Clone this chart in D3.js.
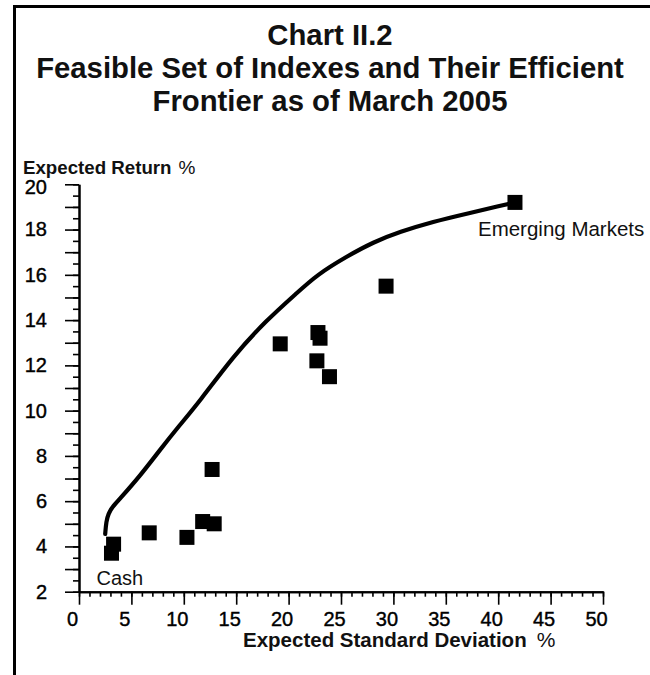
<!DOCTYPE html>
<html>
<head>
<meta charset="utf-8">
<script src="https://cdn.jsdelivr.net/npm/d3@7"></script>
<style>
  html, body { margin: 0; padding: 0; background: #fff; }
  svg { display: block; font-family: "Liberation Sans", Arial, Helvetica, sans-serif; }
</style>
</head>
<body>
<svg id="chart" width="650" height="675"></svg>
<script>
// ---- data ----
const titleLines = ["Chart II.2", "Feasible Set of Indexes and Their Efficient", "Frontier as of March 2005"];
const xTicks = [0, 5, 10, 15, 20, 25, 30, 35, 40, 45, 50];
const yTicks = [2, 4, 6, 8, 10, 12, 14, 16, 18, 20];
// feasible set of indexes (expected std dev %, expected return %)
const indexSD     = [3.3, 3.1, 6.7, 10.3, 11.8, 12.9, 12.7, 19.2, 22.8, 23.0, 22.7, 23.9, 29.3, 41.6];
const indexReturn = [4.1, 3.7, 4.6, 4.4, 5.1, 5.0, 7.4, 12.95, 13.45, 13.2, 12.2, 11.5, 15.5, 19.2];
// efficient frontier
const frontierSD     = [2.5, 2.6, 2.8, 3.2, 3.8, 5.8, 7.7, 9.5, 11.5, 14.7, 17.9, 20.8, 22.7, 25.5, 28.1, 30.6, 33.8, 37.0, 40.2, 41.6];
const frontierReturn = [4.55, 5.1, 5.45, 5.75, 6.05, 7.1, 8.25, 9.3, 10.4, 12.4, 14.0, 15.2, 16.0, 16.8, 17.45, 17.9, 18.35, 18.7, 19.05, 19.2];
const pointLabels = [{ text: "Cash", i: 1 }, { text: "Emerging Markets", i: 13 }];

// ---- drawing ----
const svg = d3.select("#chart");
const x = d3.scaleLinear().domain([0, 50]).range([79, 603]);
const y = d3.scaleLinear().domain([2, 20]).range([591.7, 184.3]);

// frame (left + top)
svg.append("path")
  .attr("d", "M14.5,675 L14.5,6.5 L650,6.5")
  .attr("fill", "none").attr("stroke", "#000").attr("stroke-width", 3);

// title
svg.append("g").selectAll("text").data(titleLines).join("text")
  .attr("x", 330)
  .attr("y", (d, i) => 45 + i * 33)
  .attr("text-anchor", "middle")
  .attr("font-weight", "bold")
  .attr("font-size", 29.3)
  .attr("fill", "#111")
  .text(d => d);

// x axis: minor + major
svg.append("g").attr("transform", `translate(0,${y(2)})`)
  .call(d3.axisBottom(x).tickValues(d3.range(0, 51, 1)).tickSize(5).tickSizeOuter(0).tickFormat(""));
const xMajor = svg.append("g").attr("transform", `translate(0,${y(2)})`)
  .call(d3.axisBottom(x).tickValues(xTicks).tickSize(13).tickSizeOuter(0).tickFormat(d3.format("d")));
xMajor.selectAll("text").attr("y", 20).attr("dx", -7)
  .attr("font-size", 20).attr("fill", "#000").attr("stroke", "#000").attr("stroke-width", 0.4)
  .attr("font-family", null);

// y axis: half ticks, integer ticks (long), labels on even values
svg.append("g").attr("transform", `translate(${x(0)},0)`)
  .call(d3.axisLeft(y).tickValues(d3.range(2, 20.01, 0.5)).tickSize(6).tickSizeOuter(0).tickFormat(""));
const yMajor = svg.append("g").attr("transform", `translate(${x(0)},0)`)
  .call(d3.axisLeft(y).tickValues(d3.range(2, 20.01, 1)).tickSize(14).tickSizeOuter(0)
    .tickFormat(d => yTicks.includes(d) ? d3.format("d")(d) : ""));
yMajor.selectAll("text").attr("x", -32).attr("font-size", 20).attr("fill", "#000")
  .attr("stroke", "#000").attr("stroke-width", 0.4).attr("font-family", null)
  .attr("dy", d => d === 20 ? "0.45em" : "0.32em");

svg.selectAll(".domain").attr("stroke", "#000").attr("stroke-width", 2);
svg.selectAll(".tick line").attr("stroke", "#000").attr("stroke-width", 1.6);

// axis titles
const yt = svg.append("text").attr("x", 23).attr("y", 174).attr("fill", "#111");
yt.append("tspan").attr("font-weight", "bold").attr("font-size", 18.7).text("Expected Return");
yt.append("tspan").attr("font-size", 19).attr("dx", 7).text("%");

const xt = svg.append("text").attr("x", 243).attr("y", 647).attr("fill", "#111");
xt.append("tspan").attr("font-weight", "bold").attr("font-size", 20.5).text("Expected Standard Deviation");
xt.append("tspan").attr("font-size", 21).attr("dx", 10).text("%");

// efficient frontier
const frontier = frontierSD.map((d, i) => [d, frontierReturn[i]]);
svg.append("path")
  .datum(frontier)
  .attr("fill", "none").attr("stroke", "#000").attr("stroke-width", 4.2)
  .attr("stroke-linecap", "round").attr("stroke-linejoin", "round")
  .attr("d", d3.line().x(d => x(d[0])).y(d => y(d[1])).curve(d3.curveBasis));

// index squares
const sz = 15;
svg.append("g").selectAll("rect").data(indexSD.map((d, i) => [d, indexReturn[i]])).join("rect")
  .attr("x", d => x(d[0]) - sz / 2)
  .attr("y", d => y(d[1]) - sz / 2)
  .attr("width", sz).attr("height", sz)
  .attr("fill", "#000");

// point labels
svg.append("text")
  .attr("x", x(indexSD[pointLabels[0].i]) - 15).attr("y", y(indexReturn[pointLabels[0].i]) + 32)
  .attr("font-size", 20).attr("fill", "#111").text(pointLabels[0].text);
svg.append("text")
  .attr("x", x(indexSD[pointLabels[1].i]) - 37).attr("y", y(indexReturn[pointLabels[1].i]) + 34)
  .attr("font-size", 20.5).attr("fill", "#111").text(pointLabels[1].text);
</script>
</body>
</html>
